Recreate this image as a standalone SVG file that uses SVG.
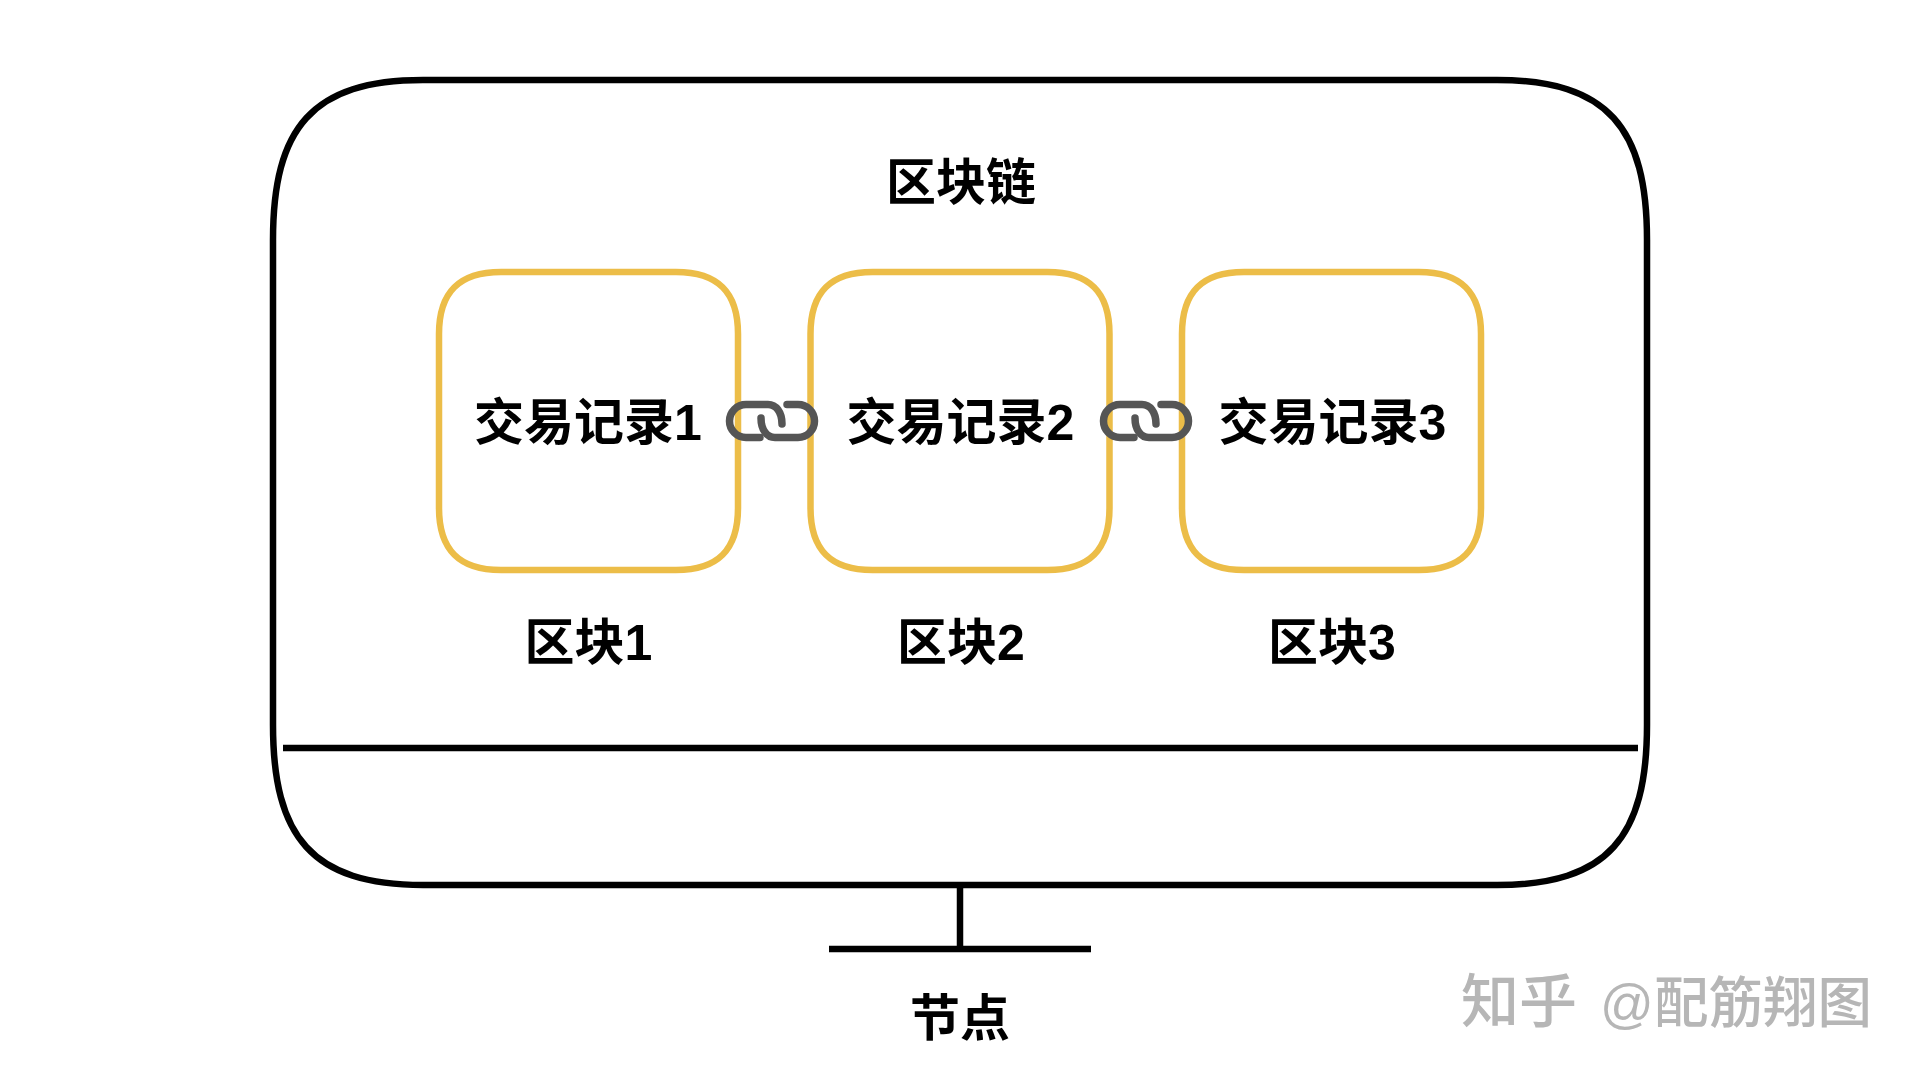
<svg xmlns="http://www.w3.org/2000/svg" xmlns:xlink="http://www.w3.org/1999/xlink" width="1920" height="1080" viewBox="0 0 1920 1080">
<style>
text{font-family:"Liberation Sans","Noto Sans CJK SC",sans-serif;font-weight:700;font-size:50px;fill:#000;text-anchor:middle}
.wm{font-family:"Noto Sans CJK SC",sans-serif;font-weight:500;fill:#b6b6b6;text-anchor:start}
.k{fill:none;stroke:#000;stroke-width:6.5}
.block{fill:none;stroke:#ecbd48;stroke-width:6.5}
.chain{fill:none;stroke:#555;stroke-width:7.5;stroke-linecap:round}
</style>
<defs>
<path id="bk" d="M0 62C0 20 20 0 62 0H237C279 0 299 20 299 62V236C299 278 279 298 237 298H62C20 298 0 278 0 236Z"/>
<g id="lk">
<path d="M760 437.5H746A16.5 16.5 0 0 1 746 404.5H768C776 404.5 782 412 782 424"/>
<path d="M787 404.5H798A16.5 16.5 0 0 1 798 437.5H775C767 437.5 761 430 761 418"/>
</g>
</defs>
<rect width="1920" height="1080" fill="#fff"/>
<g id="node-monitor">
<path class="k" d="M273 240C273 128 312 80 423 80H1497C1608 80 1647 128 1647 240V725C1647 837 1608 885 1497 885H423C312 885 273 837 273 725Z"/>
<line class="k" x1="283" y1="748" x2="1638" y2="748"/>
<line class="k" x1="960" y1="885" x2="960" y2="949"/>
<line class="k" x1="829" y1="949" x2="1091" y2="949"/>
<text x="960" y="1036">节点</text>
</g>
<text id="title" x="961" y="200">区块链</text>
<g id="block1">
<use class="block" href="#bk" xlink:href="#bk" x="439" y="272"/>
<text x="588" y="440">交易记录1</text>
<text x="588.5" y="660">区块1</text>
</g>
<g id="block2">
<use class="block" href="#bk" xlink:href="#bk" x="810.5" y="272"/>
<text x="960.5" y="440">交易记录2</text>
<text x="961" y="660">区块2</text>
</g>
<g id="block3">
<use class="block" href="#bk" xlink:href="#bk" x="1182" y="272"/>
<text x="1332.5" y="440">交易记录3</text>
<text x="1332" y="660">区块3</text>
</g>
<g id="connectors">
<use class="chain" href="#lk" xlink:href="#lk"/>
<use class="chain" href="#lk" xlink:href="#lk" x="374"/>
</g>
<g id="watermark">
<text class="wm" x="1461" y="1022" style="font-size:58px">知乎</text>
<text class="wm" x="1600" y="1022" style="font-size:53px;font-family:'Liberation Sans','Noto Sans CJK SC',sans-serif">@</text>
<text class="wm" x="1654" y="1022" style="font-size:54.5px">配筋翔图</text>
</g>
</svg>
